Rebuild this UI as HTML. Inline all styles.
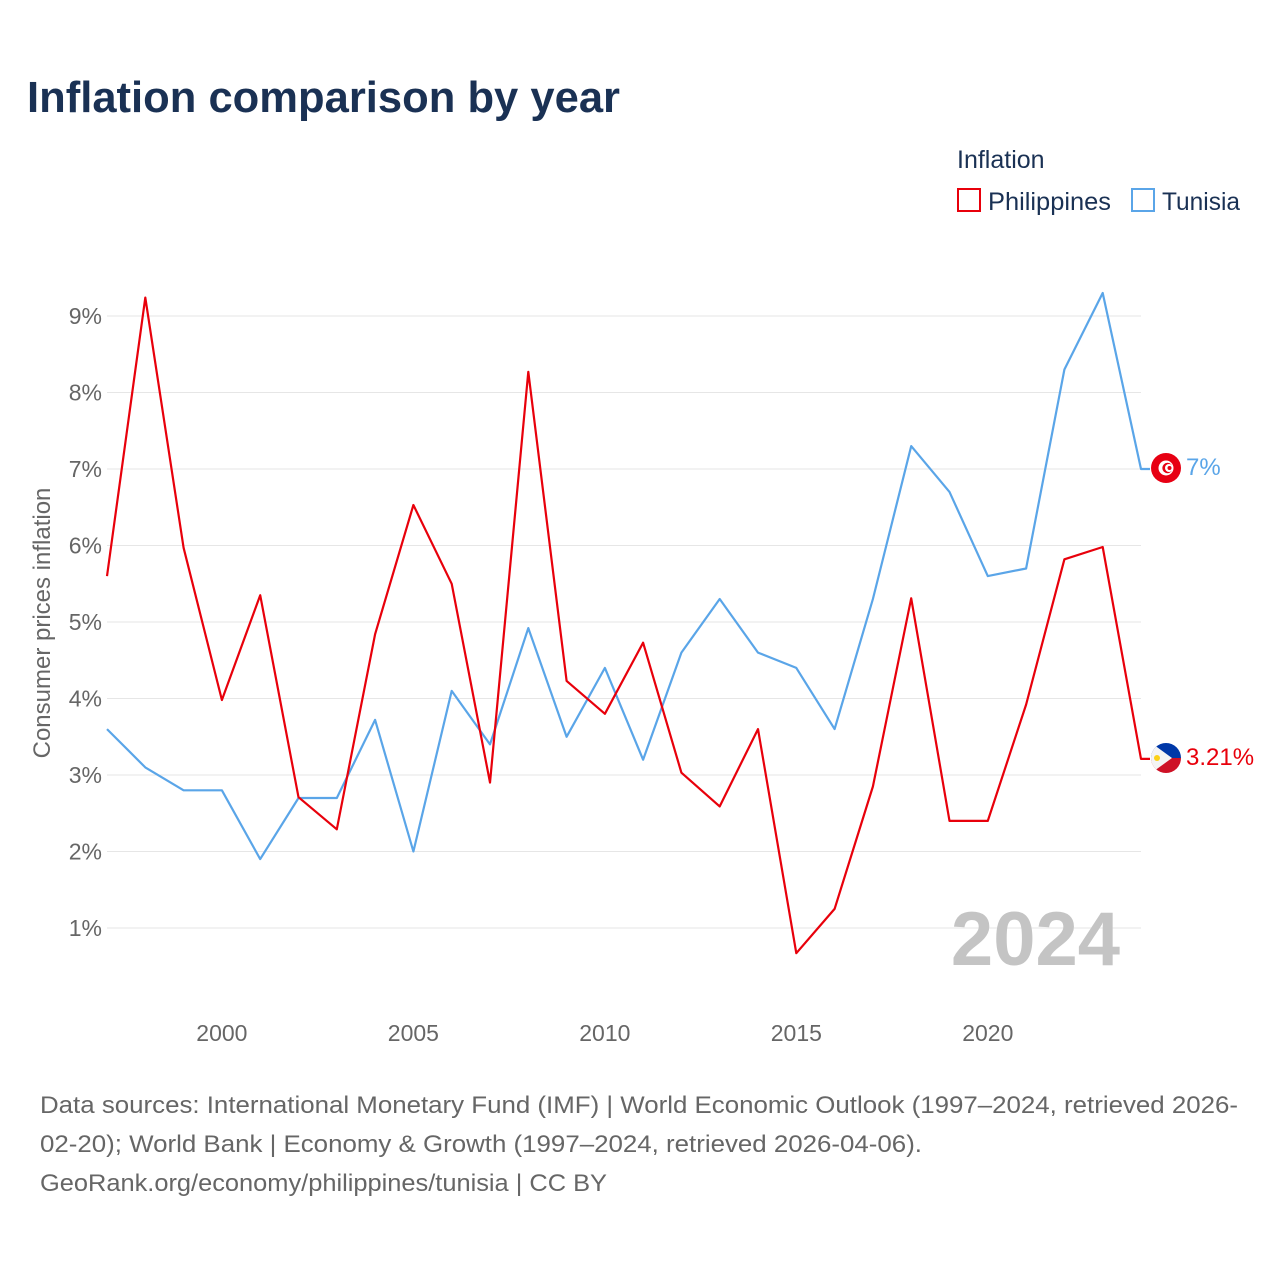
<!DOCTYPE html>
<html><head><meta charset="utf-8"><style>
body{margin:0;background:#fff;font-family:"Liberation Sans",sans-serif;}
#wrap{position:relative;width:1280px;height:1280px;overflow:hidden;}
</style></head><body>
<div id="wrap">
<svg id="chart" width="1280" height="1280">
<text x="27" y="112" font-size="44" font-weight="bold" fill="#1a3154" textLength="593" lengthAdjust="spacingAndGlyphs">Inflation comparison by year</text>
<g>
<text x="957" y="168" font-size="25" fill="#1a3154">Inflation</text>
<g><rect x="958" y="189" width="22" height="22" fill="none" stroke="#e8000b" stroke-width="2"/><text x="988" y="210" font-size="25" fill="#1a3154" textLength="123" lengthAdjust="spacingAndGlyphs">Philippines</text></g>
<g><rect x="1132" y="189" width="22" height="22" fill="none" stroke="#5aa5e8" stroke-width="2"/><text x="1162" y="210" font-size="25" fill="#1a3154" textLength="78" lengthAdjust="spacingAndGlyphs">Tunisia</text></g>
</g>
<g id="grid"></g>
<g id="yt"></g>
<g id="xt"></g>
<text transform="translate(50,623) rotate(-90)" text-anchor="middle" font-size="24" fill="#666">Consumer prices inflation</text>
<text x="1120" y="965" text-anchor="end" font-size="76" font-weight="bold" fill="#c4c4c4">2024</text>
<g id="series"></g>
<g><circle cx="1166" cy="468" r="15" fill="#e70013"/><circle cx="1166" cy="468" r="7.5" fill="#fff"/><circle cx="1167.5" cy="468" r="5.2" fill="#e70013"/><circle cx="1169" cy="468" r="4" fill="#fff"/><circle cx="1169.5" cy="468" r="2" fill="#e70013"/></g>
<g><clipPath id="pc"><circle cx="1166" cy="758" r="15"/></clipPath><g clip-path="url(#pc)"><rect x="1150" y="742" width="32" height="16" fill="#0038a8"/><rect x="1150" y="758" width="32" height="16" fill="#ce1126"/><polygon points="1150,742 1172,758 1150,774" fill="#f4f4f4"/><circle cx="1157" cy="758" r="3" fill="#fcd116"/></g></g>
<text x="1186" y="475" font-size="24" fill="#5aa5e8">7%</text>
<text x="1186" y="765" font-size="24" fill="#e8000b">3.21%</text>
<text font-size="24" fill="#666"><tspan x="40" y="1113" textLength="1198" lengthAdjust="spacingAndGlyphs">Data sources: International Monetary Fund (IMF) | World Economic Outlook (1997–2024, retrieved 2026-</tspan><tspan x="40" y="1152" textLength="882" lengthAdjust="spacingAndGlyphs">02-20); World Bank | Economy &amp; Growth (1997–2024, retrieved 2026-04-06).</tspan><tspan x="40" y="1191" textLength="567" lengthAdjust="spacingAndGlyphs">GeoRank.org/economy/philippines/tunisia | CC BY</tspan></text>
</svg>
</div>
<script>
const years=[1997,1998,1999,2000,2001,2002,2003,2004,2005,2006,2007,2008,2009,2010,2011,2012,2013,2014,2015,2016,2017,2018,2019,2020,2021,2022,2023,2024];
const philippines=[5.6,9.24,5.97,3.98,5.35,2.71,2.29,4.84,6.53,5.5,2.9,8.27,4.23,3.8,4.73,3.03,2.59,3.6,0.67,1.25,2.85,5.31,2.4,2.4,3.92,5.82,5.98,3.21];
const tunisia=[3.6,3.1,2.8,2.8,1.9,2.7,2.7,3.72,2.0,4.1,3.4,4.92,3.5,4.4,3.2,4.6,5.3,4.6,4.4,3.6,5.3,7.3,6.7,5.6,5.7,8.3,9.3,7.0];
const yTicks=[1,2,3,4,5,6,7,8,9];
const xTicks=[2000,2005,2010,2015,2020];
const NS='http://www.w3.org/2000/svg';
const x=v=>107+(v-1997)*(1141-107)/27;
const y=v=>1004.5-v*76.5;
const mk=(t,a,p)=>{const e=document.createElementNS(NS,t);for(const k in a)e.setAttribute(k,a[k]);document.getElementById(p).appendChild(e);return e;};
yTicks.forEach(t=>{
 const l=mk('line',{x1:107,x2:1141,y1:y(t),y2:y(t),stroke:'#e6e6e6','stroke-width':1},'grid');
 
 
 const tx=mk('text',{x:102,y:y(t)+8,'text-anchor':'end','font-size':23,fill:'#666'},'yt');
 tx.textContent=t+'%';
 
 
});
xTicks.forEach(t=>{
 const tx=mk('text',{x:x(t),y:1041,'text-anchor':'middle','font-size':23,fill:'#666'},'xt');
 tx.textContent=t;
 
 
});
function line(vals,col,name){
 let d=vals.map((v,i)=>(i?'L':'M')+x(years[i]).toFixed(1)+','+y(v).toFixed(1)).join(' ');
 d+=' L'+(x(years[years.length-1])+9)+','+y(vals[vals.length-1]).toFixed(1);
 const p=mk('path',{d:d,fill:'none',stroke:col,'stroke-width':2.2,'stroke-linejoin':'round'},'series');
 
 
}
line(tunisia,'#5aa5e8','tunisia-line');
line(philippines,'#e8000b','philippines-line');
</script>
</body></html>
